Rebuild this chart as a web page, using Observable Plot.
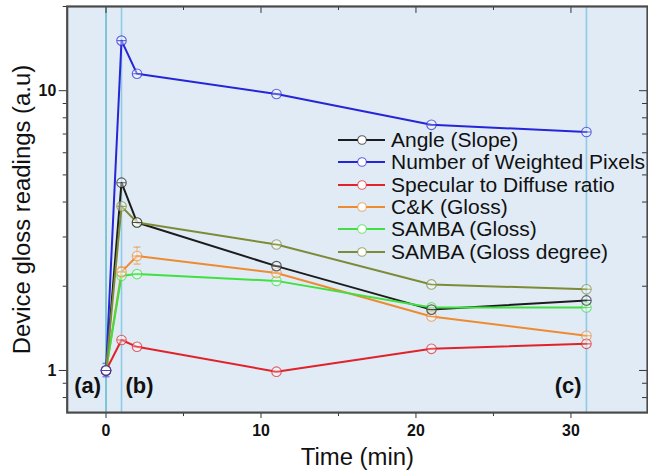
<!DOCTYPE html>
<html><head><meta charset="utf-8">
<script src="https://cdn.jsdelivr.net/npm/d3@7"></script>
<script src="https://cdn.jsdelivr.net/npm/@observablehq/plot@0.6"></script>
<style>
html,body{margin:0;padding:0;background:#fff;overflow:hidden;}
#wrap{position:relative;width:648px;height:474px;overflow:hidden;}
#legend{position:absolute;left:338px;top:129px;font-family:"Liberation Sans",Arial,sans-serif;font-size:21px;color:#111;}
.row{display:flex;align-items:center;height:22.3px;white-space:nowrap;}
.row svg{margin-right:5px;flex:none;}
</style></head><body><div id="wrap"></div>
<script>
// ---- data ----
const times = [0, 1, 2, 11, 21, 31];
const seriesNames = ["Angle (Slope)", "Number of Weighted Pixels", "Specular to Diffuse ratio", "C&K (Gloss)", "SAMBA (Gloss)", "SAMBA (Gloss degree)"];
const seriesColors = ["#1c1c1c", "#2626d6", "#e0222a", "#ee8a30", "#3fe03f", "#7e8b36"];
const angleSlope     = [1, 4.69, 3.38, 2.36, 1.65, 1.78];
const weightedPixels = [1, 15.1, 11.5, 9.73, 7.55, 7.12];
const specDiffuse    = [1, 1.285, 1.215, 0.99, 1.195, 1.245];
const ckGloss        = [1, 2.25, 2.565, 2.23, 1.56, 1.33];
const sambaGloss     = [1, 2.18, 2.21, 2.09, 1.68, 1.68];
const sambaDegree    = [1, 3.86, 3.38, 2.82, 2.03, 1.95];
const seriesValues = [angleSlope, weightedPixels, specDiffuse, ckGloss, sambaGloss, sambaDegree];
// drawing order of the markers (blue on top, as in the reference)
const markerOrder = [5, 4, 3, 2, 0, 1];
// error bars (series index, time, low, high)
const errSeries = [1, 3, 3];
const errTimes  = [0, 1, 2];
const errLow    = [0.95, 2.16, 2.40];
const errHigh   = [1.06, 2.34, 2.76];
// event lines and labels
const eventTimes  = [0, 1, 31];
const eventLabels = ["(a)", "(b)", "(c)"];
const eventLabelSide = ["left", "right", "left"];
const xMajorTicks = [0, 10, 20, 30];
const xMinorTicks = [5, 15, 25];
const yMajorTicks = [1, 10];
const yMinorTicks = [0.8, 0.9, 2, 3, 4, 5, 6, 7, 8, 9, 20];
const xLabel = "Time (min)";
const yLabel = "Device gloss readings (a.u)";

// ---- build ----
const long = [];
seriesValues.forEach((vals, i) => vals.forEach((v, j) => long.push({series: seriesNames[i], x: times[j], y: v})));
const markers = [];
markerOrder.forEach(i => seriesValues[i].forEach((v, j) => markers.push({series: seriesNames[i], x: times[j], y: v})));
const errs = errSeries.map((s, i) => ({series: seriesNames[s], x: errTimes[i], lo: errLow[i], hi: errHigh[i]}));
const errCaps = errs.flatMap(d => [{series: d.series, x: d.x, y: d.lo}, {series: d.series, x: d.x, y: d.hi}]);
const events = eventTimes.map((t, i) => ({x: t, label: eventLabels[i], side: eventLabelSide[i]}));

const circleBar = {draw(ctx, size) { const r = Math.sqrt(size / Math.PI); ctx.moveTo(r, 0); ctx.arc(0, 0, r, 0, 2 * Math.PI); ctx.moveTo(-r, 0); ctx.lineTo(r, 0); }};
const hbar = {draw(ctx, size) { const r = Math.sqrt(size / Math.PI); ctx.moveTo(-r, 0); ctx.lineTo(r, 0); }};

const W = 651, H = 474, mL = 67, mR = 1, mT = 6, mB = 60;
const pw = W - mL - mR, ph = H - mT - mB;
const font = "Liberation Sans, Arial, sans-serif";

const chart = Plot.plot({
  width: W, height: H,
  marginLeft: mL, marginRight: mR, marginTop: mT, marginBottom: mB,
  style: {fontFamily: font, background: "transparent", color: "#111"},
  x: {domain: [-2.505, 34.94]},
  y: {type: "log", domain: [0.707, 20]},
  color: {domain: seriesNames, range: seriesColors},
  marks: [
    Plot.frame({fill: "#e0ebf6", stroke: null}),
    Plot.ruleX(events.filter((d, i) => i === 0), {x: "x", stroke: "#45b2c4", strokeWidth: 1.3}),
    Plot.ruleX(events.filter((d, i) => i > 0), {x: "x", stroke: "#8fcbe6", strokeWidth: 1.6}),
    Plot.text(events.filter(d => d.side === "left"), {x: "x", text: "label", frameAnchor: "bottom", textAnchor: "end", lineAnchor: "middle", dx: -5, dy: -27, fontSize: 22, fontWeight: "bold", fill: "#111"}),
    Plot.text(events.filter(d => d.side === "right"), {x: "x", text: "label", frameAnchor: "bottom", textAnchor: "start", lineAnchor: "middle", dx: 4, dy: -27, fontSize: 22, fontWeight: "bold", fill: "#111"}),
    Plot.ruleX(errs, {x: "x", y1: "lo", y2: "hi", stroke: "series", strokeOpacity: 0.55, strokeWidth: 1}),
    Plot.dot(errCaps, {x: "x", y: "y", stroke: "series", strokeOpacity: 0.55, r: 3.5, symbol: hbar}),
    Plot.line(long, {x: "x", y: "y", z: "series", stroke: "series", strokeWidth: 2}),
    Plot.dot(markers, {x: "x", y: "y", stroke: "series", fill: "white", fillOpacity: 0.4, strokeOpacity: 0.7, strokeWidth: 1.1, r: 4.8, symbol: circleBar}),
    // axes
    Plot.axisX(xMajorTicks, {tickSize: 6, tickPadding: 6, fontSize: 16, fontWeight: "bold", label: null, stroke: "#333", tickFormat: d => String(d)}),
    Plot.axisX(xMinorTicks, {tickSize: 4, tickFormat: () => "", label: null, stroke: "#333"}),
    Plot.axisY(yMajorTicks, {tickSize: 8, tickPadding: 3, fontSize: 16, fontWeight: "bold", label: null, stroke: "#333", tickFormat: d => String(d)}),
    Plot.axisY(yMinorTicks, {tickSize: 4, tickFormat: () => "", label: null, stroke: "#333"}),
    Plot.tickX(xMajorTicks, {x: d => d, insetBottom: ph - 7, stroke: "#333"}),
    Plot.tickX(xMinorTicks, {x: d => d, insetBottom: ph - 4, stroke: "#333"}),
    Plot.tickY(yMajorTicks, {y: d => d, insetLeft: pw - 8, stroke: "#333"}),
    Plot.tickY(yMinorTicks, {y: d => d, insetLeft: pw - 5, stroke: "#333"}),
    Plot.text([xLabel], {text: d => d, frameAnchor: "bottom", textAnchor: "middle", lineAnchor: "middle", dy: 45, fontSize: 24, fill: "#111"}),
    Plot.text([yLabel], {text: d => d, frameAnchor: "left", textAnchor: "middle", lineAnchor: "middle", dx: -45, rotate: -90, fontSize: 24, fill: "#111"}),
    Plot.frame({stroke: "#4a4a4a", strokeWidth: 2.2})
  ]
});
chart.style.display = "block";
const wrap = document.getElementById("wrap");
wrap.appendChild(chart);

// legend
const legend = document.createElement("div");
legend.id = "legend";
seriesNames.forEach((name, i) => {
  const row = document.createElement("div");
  row.className = "row";
  row.innerHTML = `<svg width="48" height="12"><line x1="0" y1="6" x2="47" y2="6" stroke="${seriesColors[i]}" stroke-width="2"/><circle cx="24" cy="6" r="4.3" fill="#fff" stroke="${seriesColors[i]}" stroke-opacity="0.7" stroke-width="1.1"/></svg>`;
  const span = document.createElement("span");
  span.textContent = name;
  row.appendChild(span);
  legend.appendChild(row);
});
wrap.appendChild(legend);
</script>
</body></html>
